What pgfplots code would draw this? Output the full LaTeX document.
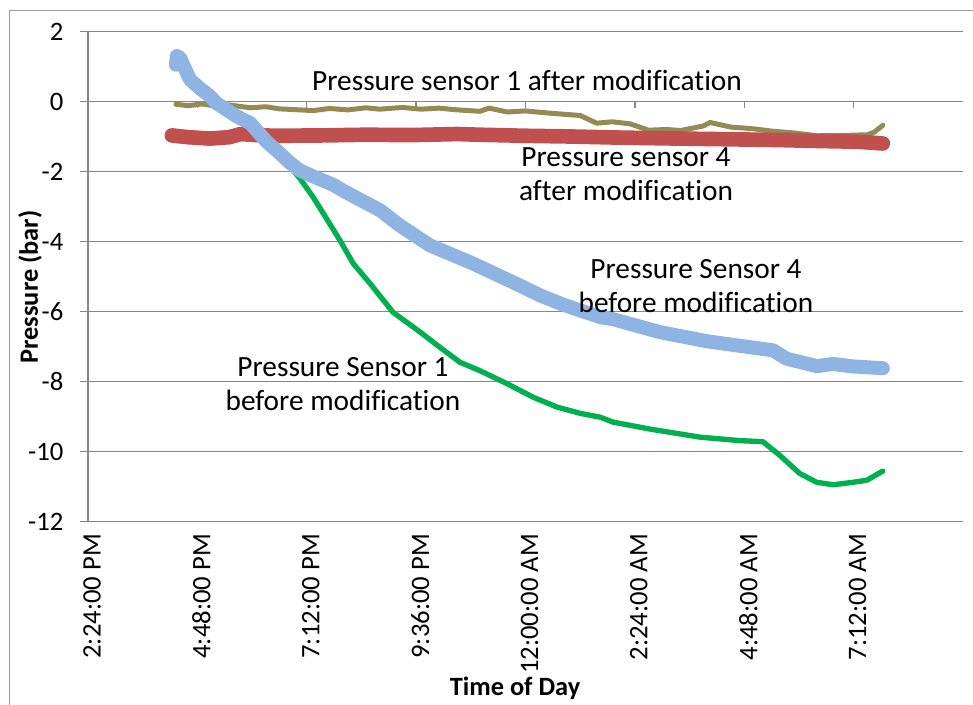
\documentclass[border=0pt]{standalone}
\usepackage{fontspec}
\setmainfont[Ligatures=NoCommon]{Carlito}
\usepackage{pgfplots}
\pgfplotsset{compat=1.18}
\definecolor{gridgray}{RGB}{134,134,134}
\definecolor{olive1}{RGB}{148,138,84}
\definecolor{red4}{RGB}{192,80,77}
\definecolor{blue4}{RGB}{141,180,226}
\definecolor{green1}{RGB}{0,176,80}
\begin{document}
\begin{tikzpicture}
\begin{scope}[x=0.75pt,y=0.75pt]
\useasboundingbox (0,0) rectangle (973,705);
\draw[gridgray!80, line width=1.1pt] (9.5,-100) -- (9.5,694.5) -- (1100,694.5);
\end{scope}
\begin{axis}[
  at={(66pt,137.625pt)}, anchor=south west,
  scale only axis, width=656.25pt, height=367.5pt,
  xmin=14.4, xmax=33.6, ymin=-12, ymax=2,
  axis lines*=left,
  axis line style={gridgray, line width=1.1pt},
  ymajorgrids, major grid style={gridgray, line width=1.1pt},
  ytick={-12,-10,...,2}, yticklabels={-12,-10,-8,-6,-4,-2,0,2},
  xtick={14.4,16.8,19.2,21.6,24,26.4,28.8,31.2},
  xticklabels={2:24:00 PM, 4:48:00 PM, 7:12:00 PM, 9:36:00 PM, 12:00:00 AM, 2:24:00 AM, 4:48:00 AM, 7:12:00 AM},
  tick align=outside, major tick length=6pt,
  y tick style={gridgray, line width=1.1pt},
  x tick style={draw=none},
  xticklabel style={rotate=90, anchor=east, yshift=-3pt, font=\fontsize{20}{22}\selectfont},
  yticklabel style={anchor=east, xshift=-9pt, font=\fontsize{20}{22}\selectfont},
  xlabel={Time of Day}, ylabel={Pressure (bar)},
  xlabel style={at={(axis description cs:0.488,-0.3398)}, anchor=center, font=\bfseries\fontsize{19.8}{22}\selectfont},
  ylabel style={at={(axis description cs:-0.0663,0.4786)}, anchor=center, font=\bfseries\fontsize{19.8}{22}\selectfont},
  every axis plot/.append style={line cap=round, line join=round},
]
\pgfplotsinvokeforeach{16.8,19.2,21.6,24,26.4,28.8,31.2}{
  \draw[gridgray, line width=1.1pt] (axis cs:#1,0) -- ([yshift=-5.25pt]axis cs:#1,0);
}
% Pressure sensor 1 after modification
\addplot[olive1, line width=3.75pt] coordinates {
(16.33,-0.08) (16.6,-0.12) (16.9,-0.07) (17.2,-0.13) (17.5,-0.10) (17.96,-0.18)
(18.3,-0.15) (18.6,-0.21) (19.05,-0.24) (19.34,-0.26) (19.7,-0.20) (20.1,-0.24)
(20.5,-0.18) (20.8,-0.22) (21.3,-0.17) (21.7,-0.22) (22.1,-0.19) (22.5,-0.24)
(23.0,-0.28) (23.2,-0.19) (23.6,-0.30) (24.0,-0.27) (24.5,-0.33) (25.2,-0.40)
(25.56,-0.62) (25.9,-0.58) (26.3,-0.64) (26.7,-0.82) (27.1,-0.80) (27.4,-0.83)
(27.9,-0.70) (28.05,-0.60) (28.5,-0.73) (29.0,-0.78) (29.43,-0.85) (29.9,-0.90)
(30.4,-0.98) (31.0,-0.97) (31.5,-0.95) (31.65,-0.88) (31.84,-0.68)
};
% Pressure sensor 4 after modification
\addplot[red4, line width=11pt] coordinates {
(16.24,-0.97) (16.6,-1.02) (17.08,-1.06) (17.5,-1.02) (17.75,-0.93) (18.1,-0.96)
(18.5,-0.98) (19.5,-0.97) (20.5,-0.95) (21.5,-0.96) (22.5,-0.93) (23.0,-0.95)
(24.0,-0.98) (25.0,-1.00) (26.0,-1.03) (27.39,-1.06) (28.5,-1.08) (29.5,-1.10)
(30.5,-1.13) (31.3,-1.15) (31.84,-1.20)
};
% Pressure Sensor 1 before modification
\addplot[green1, line width=4pt] coordinates {
(16.5,0.9) (16.86,0.45) (17.22,0.0) (17.66,-0.42) (18.32,-1.15) (18.68,-1.6)
(18.83,-1.85) (19.05,-2.2) (19.34,-2.73) (19.93,-3.97) (20.22,-4.63) (20.59,-5.2)
(21.09,-6.02) (21.69,-6.59) (22.12,-7.02) (22.56,-7.45) (23.0,-7.69) (23.59,-8.06)
(24.17,-8.45) (24.69,-8.73) (25.2,-8.91) (25.64,-9.02) (25.92,-9.16) (26.73,-9.36)
(27.83,-9.59) (28.71,-9.69) (29.21,-9.72) (29.58,-10.11) (30.02,-10.63) (30.39,-10.88)
(30.75,-10.95) (31.19,-10.88) (31.49,-10.82) (31.84,-10.56)
};
% Pressure Sensor 4 before modification
\addplot[blue4, line width=10.5pt] coordinates {
(16.33,1.05) (16.35,1.30) (16.42,1.25) (16.64,0.62) (16.86,0.37) (17.08,0.15)
(17.22,-0.05) (17.66,-0.42) (17.96,-0.62) (18.32,-1.15) (18.54,-1.40) (18.83,-1.75)
(19.05,-1.97) (19.34,-2.14) (19.78,-2.38) (20.0,-2.55) (20.81,-3.11) (21.25,-3.55)
(21.9,-4.11) (22.85,-4.63) (23.88,-5.26) (24.32,-5.54) (24.82,-5.80) (25.2,-5.97)
(25.64,-6.16) (25.92,-6.22) (26.95,-6.59) (27.98,-6.85) (28.7,-6.98) (29.43,-7.11)
(29.73,-7.35) (30.39,-7.56) (30.75,-7.50) (31.19,-7.57) (31.84,-7.62)
};
\end{axis}
\begin{scope}[x=0.75pt,y=0.75pt]
\node[font=\fontsize{22}{25.5}\selectfont] at (527,625) {Pressure sensor 1 after modification};
\node[align=center, font=\fontsize{22}{25.5}\selectfont] at (626,531) {Pressure sensor 4\\after modification};
\node[align=center, font=\fontsize{22}{25.5}\selectfont] at (696,419) {Pressure Sensor 4\\before modification};
\node[align=center, font=\fontsize{22}{25.5}\selectfont] at (343,321) {Pressure Sensor 1\\before modification};
\end{scope}
\end{tikzpicture}
\end{document}
